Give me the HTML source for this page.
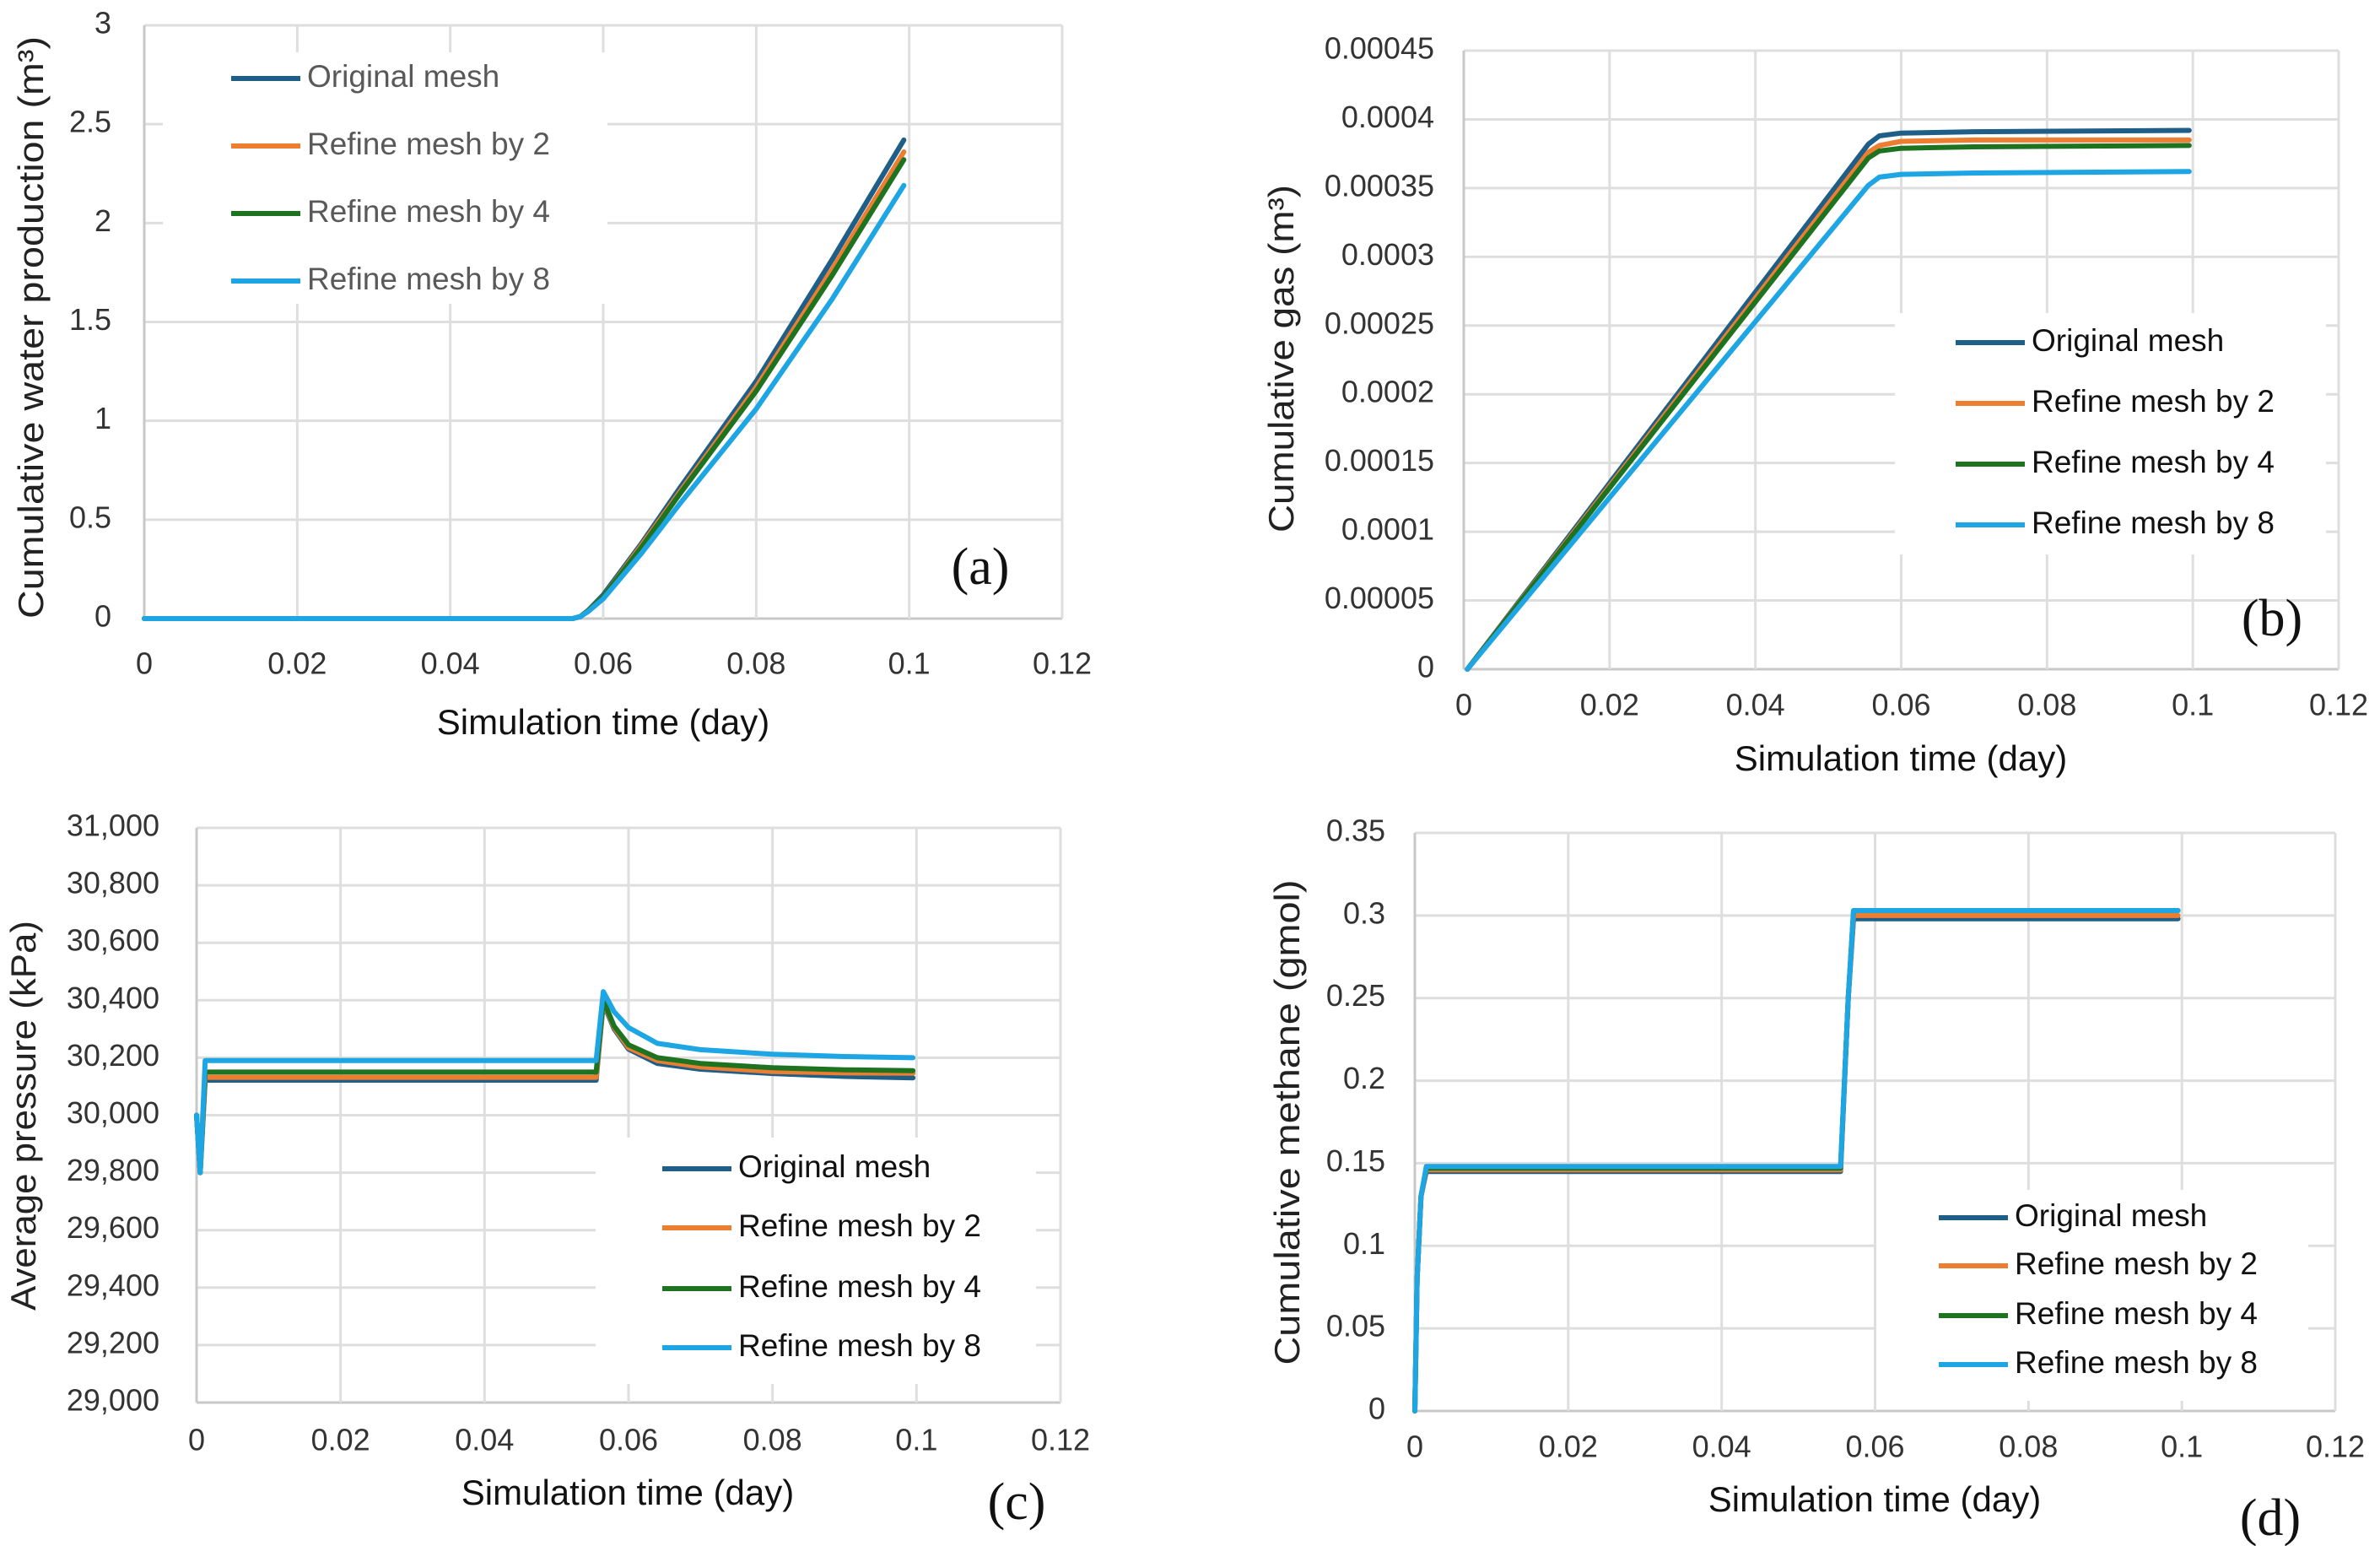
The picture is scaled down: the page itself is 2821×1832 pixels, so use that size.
<!DOCTYPE html>
<html><head><meta charset="utf-8"><style>
html,body{margin:0;padding:0;background:#fff;}
svg{display:block;}
text{font-family:"Liberation Sans",sans-serif;}
</style></head><body>
<svg id="fig" width="2821" height="1832" viewBox="0 0 2821 1832" xmlns="http://www.w3.org/2000/svg"></svg>
<script>
// ---------- shared ----------
const seriesNames = ["Original mesh","Refine mesh by 2","Refine mesh by 4","Refine mesh by 8"];
const xTicks = [0,0.02,0.04,0.06,0.08,0.1,0.12];
const xTickLabels = ["0","0.02","0.04","0.06","0.08","0.1","0.12"];

// ---------- panel a ----------
const aX = [0,0.056,0.057,0.058,0.06,0.065,0.07,0.08,0.09,0.0993];
const aOrig = [0,0,0.01,0.04,0.12,0.38,0.66,1.2,1.82,2.42];
const aR2 = [0,0,0.01,0.04,0.11,0.37,0.64,1.17,1.77,2.36];
const aR4 = [0,0,0.01,0.04,0.11,0.36,0.63,1.15,1.74,2.32];
const aR8 = [0,0,0.01,0.035,0.1,0.33,0.58,1.06,1.62,2.19];
const aYTicks = [0,0.5,1,1.5,2,2.5,3];
const aYLabels = ["0","0.5","1","1.5","2","2.5","3"];

// ---------- panel b ----------
const bX = [0.0005,0.0555,0.057,0.06,0.07,0.0995];
const bOrig = [0,0.000382,0.000388,0.00039,0.000391,0.000392];
const bR2 = [0,0.000376,0.000381,0.000384,0.000385,0.000385];
const bR4 = [0,0.000372,0.000377,0.000379,0.00038,0.000381];
const bR8 = [0,0.000352,0.000358,0.00036,0.000361,0.000362];
const bYTicks = [0,0.00005,0.0001,0.00015,0.0002,0.00025,0.0003,0.00035,0.0004,0.00045];
const bYLabels = ["0","0.00005","0.0001","0.00015","0.0002","0.00025","0.0003","0.00035","0.0004","0.00045"];

// ---------- panel c ----------
const cX = [0,0.0005,0.0012,0.0555,0.0565,0.058,0.06,0.064,0.07,0.08,0.09,0.0995];
const cOrig = [30000,29800,30122,30122,30390,30300,30230,30180,30160,30145,30135,30130];
const cR2 = [30000,29800,30132,30132,30395,30305,30235,30190,30168,30152,30147,30146];
const cR4 = [30000,29800,30150,30150,30400,30310,30245,30200,30180,30165,30158,30155];
const cR8 = [30000,29800,30190,30190,30430,30360,30305,30250,30228,30212,30204,30200];
const cYTicks = [29000,29200,29400,29600,29800,30000,30200,30400,30600,30800,31000];
const cYLabels = ["29,000","29,200","29,400","29,600","29,800","30,000","30,200","30,400","30,600","30,800","31,000"];

// ---------- panel d ----------
const dX = [0,0.0003,0.0008,0.0015,0.0555,0.0565,0.0572,0.0995];
const dOrig = [0,0.08,0.13,0.145,0.145,0.25,0.298,0.298];
const dR2 = [0,0.08,0.13,0.146,0.146,0.25,0.300,0.300];
const dR4 = [0,0.08,0.13,0.147,0.147,0.25,0.303,0.303];
const dR8 = [0,0.08,0.13,0.148,0.148,0.25,0.303,0.303];
const dYTicks = [0,0.05,0.1,0.15,0.2,0.25,0.3,0.35];
const dYLabels = ["0","0.05","0.1","0.15","0.2","0.25","0.3","0.35"];

const colors = ["#1f5f87","#ed7d31","#1e7320","#1ea5e4"];
const NS = "http://www.w3.org/2000/svg";
const svg = document.getElementById("fig");
function mk(tag, attrs, parent, txt){
  const e = document.createElementNS(NS, tag);
  for (const k in attrs) e.setAttribute(k, attrs[k]);
  if (txt !== undefined) e.textContent = txt;
  (parent||svg).appendChild(e);
  return e;
}

function panel(p){
  const g = mk("g", {});
  
  
  const sx = v => p.x0 + (v - 0) / 0.12 * (p.x1 - p.x0);
  const sy = v => p.y0 - (v - p.ymin) / (p.ymax - p.ymin) * (p.y0 - p.y1);
  // gridlines
  p.yTicks.forEach((t,i)=>{
    const l = mk("line",{x1:p.x0,x2:p.x1,y1:sy(t),y2:sy(t),stroke:i===0?"#c8c8c8":"#dedede","stroke-width":3},g);
    
    
    const tx = mk("text",{x:p.ylx,y:sy(t),"text-anchor":"end","dominant-baseline":"middle","font-size":36,fill:"#333"},g,p.yLabels[i]);
    
    
  });
  xTicks.forEach((t,i)=>{
    const l = mk("line",{x1:sx(t),x2:sx(t),y1:p.y1,y2:p.y0,stroke:i===0?"#c8c8c8":"#dedede","stroke-width":3},g);
    
    
    const tx = mk("text",{x:sx(t),y:p.xly,"text-anchor":"middle","dominant-baseline":"middle","font-size":36,fill:"#333"},g,xTickLabels[i]);
    
    
  });
  // legend box (covers gridlines)
  const lb = p.legBox;
  const bg = mk("rect",{x:lb[0],y:lb[1],width:lb[2]-lb[0],height:lb[3]-lb[1],fill:"#fff"},g);
  
  
  // series
  p.series.forEach((vals,si)=>{
    const d = vals.map((v,j)=>(j?"L":"M")+sx(p.xs[j]).toFixed(1)+","+sy(v).toFixed(1)).join(" ");
    const path = mk("path",{d:d,fill:"none",stroke:colors[si],"stroke-width":6,"stroke-linejoin":"round","stroke-linecap":"round"},g);
    
    
  });
  // legend entries
  seriesNames.forEach((n,si)=>{
    const ly = p.legY[si];
    const lg = mk("g",{},g);
    
    
    mk("line",{x1:p.legX,x2:p.legX+82,y1:ly,y2:ly,stroke:colors[si],"stroke-width":6},lg);
    mk("text",{x:p.legX+90,y:ly,"dominant-baseline":"middle","font-size":37,fill:p.legColor},lg,n);
  });
  // axis titles
  const xt = mk("text",{x:p.xt[0],y:p.xt[1],"text-anchor":"middle","dominant-baseline":"middle","font-size":42,fill:"#111"},g,"Simulation time (day)");
  
  
  const yt = mk("text",{x:0,y:0,"text-anchor":"middle","dominant-baseline":"middle","font-size":42,fill:"#222",
     textLength:p.yt[2],lengthAdjust:"spacingAndGlyphs",transform:`translate(${p.yt[0]},${p.yt[1]}) rotate(-90)`},g,p.ytitle);
  
  
  const pl = mk("text",{x:p.lab[0],y:p.lab[1],"text-anchor":"middle","dominant-baseline":"middle","font-size":62,fill:"#111",style:"font-family:'Liberation Serif',serif"},g,p.letter);
  
  
}

panel({id:"panel-a",x0:171,x1:1259,y0:733,y1:30,ymin:0,ymax:3,yTicks:aYTicks,yLabels:aYLabels,ylx:132,xly:789,
  xs:aX,series:[aOrig,aR2,aR4,aR8],legBox:[193,62,720,360],legX:274,legY:[93,173,253,333],legColor:"#595959",
  xt:[715,859],yt:[40,388,690],ytitle:"Cumulative water production (m³)",lab:[1162,678],letter:"(a)"});
panel({id:"panel-b",x0:1735,x1:2772,y0:793,y1:60,ymin:0,ymax:0.00045,yTicks:bYTicks,yLabels:bYLabels,ylx:1700,xly:838,
  xs:bX,series:[bOrig,bR2,bR4,bR8],legBox:[2246,371,2757,657],legX:2318,legY:[406,478,550,622],legColor:"#111",
  xt:[2253,902],yt:[1522,425,412],ytitle:"Cumulative gas  (m³)",lab:[2693,739],letter:"(b)"});
panel({id:"panel-c",x0:233,x1:1257,y0:1662,y1:981,ymin:29000,ymax:31000,yTicks:cYTicks,yLabels:cYLabels,ylx:189,xly:1709,
  xs:cX,series:[cOrig,cR2,cR4,cR8],legBox:[706,1348,1228,1640],legX:785,legY:[1385,1455,1527,1597],legColor:"#111",
  xt:[744,1772],yt:[31,1322,462],ytitle:"Average pressure (kPa)",lab:[1205,1786],letter:"(c)"});
panel({id:"panel-d",x0:1677,x1:2768,y0:1672,y1:987,ymin:0,ymax:0.35,yTicks:dYTicks,yLabels:dYLabels,ylx:1642,xly:1717,
  xs:dX,series:[dOrig,dR2,dR4,dR8],legBox:[2224,1410,2736,1660],legX:2298,legY:[1443,1500,1559,1617],legColor:"#111",
  xt:[2222,1780],yt:[1529,1330,575],ytitle:"Cumulative methane  (gmol)",lab:[2691,1805],letter:"(d)"});
</script>
</body></html>
